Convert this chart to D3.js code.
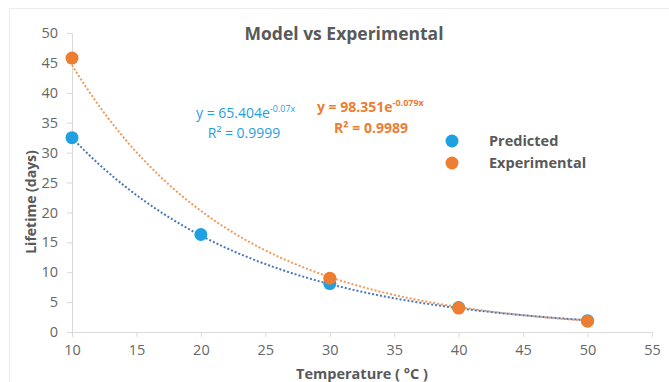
<!DOCTYPE html>
<html>
<head>
<meta charset="utf-8">
<script src="https://cdn.jsdelivr.net/npm/d3@7"></script>
<style>
  body { margin: 0; background: #fff; }
  text { font-family: "Open Sans", "Noto Sans", sans-serif; fill: #595959; }
  .axis path, .axis line { stroke: #d9d9d9; }
  .axis text { font-size: 14.5px; fill: #666; }
</style>
</head>
<body>
<div id="chart"></div>
<script>
// Chart data
var predTemps = [10, 20, 30, 40, 50];
var predLife = [32.5, 16.3, 8.1, 4.1, 1.9];
var expTemps = [10, 30, 40, 50];
var expLife = [45.8, 9.0, 4.0, 1.8];

// Exponential trendline coefficients as printed on the chart: y = a * e^(b x)
var predFit = [65.404, -0.07];
var expFit = [98.351, -0.079];

var xTicks = [10, 15, 20, 25, 30, 35, 40, 45, 50, 55];
var yTicks = [0, 5, 10, 15, 20, 25, 30, 35, 40, 45, 50];

var svgWidth = 669;
var svgHeight = 382;

var margins = { top: 33, right: 17, bottom: 50, left: 72 };
var width = svgWidth - margins.left - margins.right;
var height = svgHeight - margins.top - margins.bottom;

var blue = "#1fa0e2";
var orange = "#ed7d31";

var svg = d3.select("#chart")
    .append("svg")
    .attr("width", svgWidth)
    .attr("height", svgHeight);

// faint chart border
svg.append("rect")
    .attr("x", 9.5).attr("y", 8.5)
    .attr("width", svgWidth).attr("height", svgHeight)
    .attr("fill", "none")
    .attr("stroke", "#ececec");

var chartGroup = svg.append("g")
    .attr("transform", `translate(${margins.left}, ${margins.top})`);

var xScale = d3.scaleLinear().domain([10, 55]).range([0, width]);
var yScale = d3.scaleLinear().domain([0, 50]).range([height, 0]);

// axes
chartGroup.append("g")
    .classed("axis", true)
    .call(d3.axisLeft(yScale).tickValues(yTicks).tickSize(5).tickPadding(9));

chartGroup.append("g")
    .classed("axis", true)
    .attr("transform", `translate(0,${height})`)
    .call(d3.axisBottom(xScale).tickValues(xTicks).tickSize(5).tickPadding(8));

// trendlines
function fitCurve(fit) {
    var pts = [];
    for (var t = 10; t <= 50; t += 0.5) pts.push([t, fit[0] * Math.exp(fit[1] * t)]);
    return pts;
}
var line = d3.line().x(d => xScale(d[0])).y(d => yScale(d[1]));

chartGroup.append("path")
    .attr("d", line(fitCurve(expFit)))
    .attr("fill", "none")
    .attr("stroke", "#f19a5b")
    .attr("stroke-width", 2)
    .attr("stroke-dasharray", "2,2");

chartGroup.append("path")
    .attr("d", line(fitCurve(predFit)))
    .attr("fill", "none")
    .attr("stroke", "#4a78b8")
    .attr("stroke-width", 2)
    .attr("stroke-dasharray", "2,2");

// points
chartGroup.selectAll("circle.pred")
    .data(predTemps)
    .enter()
    .append("circle")
    .attr("class", "pred")
    .attr("cx", d => xScale(d))
    .attr("cy", (d, i) => yScale(predLife[i]))
    .attr("r", 6.5)
    .attr("fill", blue);

chartGroup.selectAll("circle.exp")
    .data(expTemps)
    .enter()
    .append("circle")
    .attr("class", "exp")
    .attr("cx", d => xScale(d))
    .attr("cy", (d, i) => yScale(expLife[i]))
    .attr("r", 6.5)
    .attr("fill", orange);

// title
svg.append("text")
    .attr("x", 344).attr("y", 40)
    .attr("text-anchor", "middle")
    .style("font-size", "17.5px")
    .style("font-weight", "bold")
    .text("Model vs Experimental");

// axis titles
svg.append("text")
    .attr("x", 362).attr("y", 379)
    .attr("text-anchor", "middle")
    .style("font-size", "14.5px")
    .style("font-weight", "bold")
    .text("Temperature ( °C )");

svg.append("text")
    .attr("transform", "translate(36,202) rotate(-90)")
    .attr("text-anchor", "middle")
    .style("font-size", "14px")
    .style("font-weight", "bold")
    .text("Lifetime (days)");

// trendline equations
var eqBlue = svg.append("text")
    .attr("x", 196).attr("y", 118)
    .style("font-size", "14px")
    .style("fill", blue);
eqBlue.append("tspan").text("y = 65.404e");
eqBlue.append("tspan").attr("dy", -6).style("font-size", "9px").text("-0.07x");

svg.append("text")
    .attr("x", 244).attr("y", 138)
    .attr("text-anchor", "middle")
    .style("font-size", "14px")
    .style("fill", blue)
    .text("R² = 0.9999");

var eqOrange = svg.append("text")
    .attr("x", 317).attr("y", 112)
    .style("font-size", "14px")
    .style("font-weight", "bold")
    .style("fill", orange);
eqOrange.append("tspan").text("y = 98.351e");
eqOrange.append("tspan").attr("dy", -6).style("font-size", "9px").text("-0.079x");

svg.append("text")
    .attr("x", 371).attr("y", 133)
    .attr("text-anchor", "middle")
    .style("font-size", "14px")
    .style("font-weight", "bold")
    .style("fill", orange)
    .text("R² = 0.9989");

// legend
var legend = svg.append("g");
var legendItems = [["Predicted", blue], ["Experimental", orange]];
legendItems.forEach(function(item, i) {
    legend.append("circle")
        .attr("cx", 452).attr("cy", 141 + i * 22)
        .attr("r", 6.5)
        .attr("fill", item[1]);
    legend.append("text")
        .attr("x", 489).attr("y", 146 + i * 22)
        .style("font-size", "14.5px")
        .style("font-weight", "bold")
        .text(item[0]);
});
</script>
</body>
</html>
